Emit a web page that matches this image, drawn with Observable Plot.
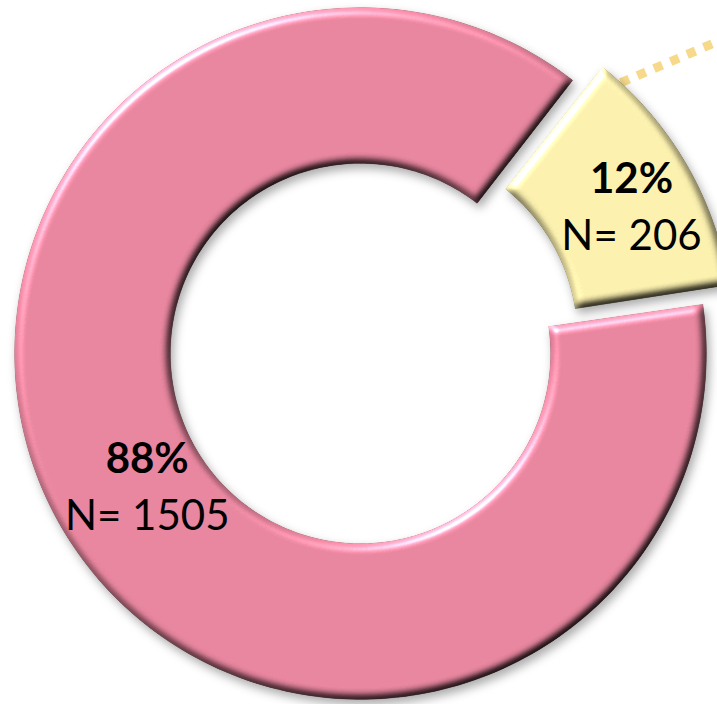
<!DOCTYPE html>
<html>
<head>
<meta charset="utf-8">
<script src="https://cdn.jsdelivr.net/npm/d3@7"></script>
<script src="https://cdn.jsdelivr.net/npm/@observablehq/plot@0.6"></script>
<style>
  html, body { margin: 0; padding: 0; background: #fff; overflow: hidden; }
  #chart svg { display: block; }
</style>
</head>
<body>
<div id="chart"></div>
<script>
// ---- data ----
const categories = ["Group A", "Group B"];
const counts = [1505, 206];
const sliceColors = ["#e6849d", "#f9eeac"];

// ---- layout ----
const W = 717, H = 704;
const cx = 360, cy = 353;
const Ro = 346, Ri = 190;
const deg = Math.PI / 180;
const explode = [0, 31];
const labelR = [252, 277];
const labelShift = [-2 * deg, 2 * deg];

const total = d3.sum(counts);
const pct = counts.map(v => Math.round(v / total * 100) + "%");
const nText = counts.map(v => "N= " + v);

const pie = d3.pie().sort(null)
  .startAngle(81.5 * deg).endAngle(81.5 * deg + 2 * Math.PI);
const arcs = pie(counts);
const pad = 0.3 * deg;

const pt = (r, a, o) => ({x: r * Math.sin(a) + o.x, y: -r * Math.cos(a) + o.y});

const slices = arcs.map((a, i) => {
  const mid = (a.startAngle + a.endAngle) / 2;
  const o = {x: explode[i] * Math.sin(mid), y: -explode[i] * Math.cos(mid)};
  const a0 = a.startAngle + pad, a1 = a.endAngle - pad;
  const n = 240;
  const pts = [];
  for (let k = 0; k <= n; k++) pts.push(pt(Ro, a0 + (a1 - a0) * k / n, o));
  for (let k = n; k >= 0; k--) pts.push(pt(Ri, a0 + (a1 - a0) * k / n, o));
  pts.push(pts[0]);
  const lab = pt(labelR[i], mid + labelShift[i], o);
  return {i, a0, a1, mid, o, pts, lab, category: categories[i]};
});

const labels = slices.map(s => ({x: s.lab.x, y: s.lab.y, pct: pct[s.i], n: nText[s.i]}));

const ys = slices[1];
const cStart = pt(Ro, ys.a0 + 4 * deg, ys.o);
const dir = 67 * deg;
const connector = [cStart, {x: cStart.x + 260 * Math.sin(dir), y: cStart.y - 260 * Math.cos(dir)}];

const chart = Plot.plot({
  width: W, height: H, margin: 0,
  style: {background: "#fff", overflow: "visible"},
  x: {domain: [-cx, W - cx], range: [0, W], axis: null},
  y: {domain: [-cy, H - cy], range: [0, H], axis: null},
  marks: [
    Plot.line(connector, {x: "x", y: "y", stroke: "#f6d98a", strokeWidth: 9,
      strokeDasharray: "9 9", strokeLinecap: "butt"}),
    ...slices.map(s => Plot.line(s.pts, {x: "x", y: "y", fill: sliceColors[s.i],
      stroke: sliceColors[s.i], strokeWidth: 0.5, ariaDescription: "slice"})),
    Plot.text(labels, {x: "x", y: "y", text: "pct", dy: -28, fontSize: 42,
      fontWeight: "bold", fontFamily: "Lato, 'Open Sans', sans-serif", fill: "#000"}),
    Plot.text(labels, {x: "x", y: "y", text: "n", dy: 29, fontSize: 42,
      fontFamily: "Lato, 'Open Sans', sans-serif", fill: "#000"})
  ]
});

const NS = "http://www.w3.org/2000/svg";
function el(parent, tag, attrs) {
  const e = document.createElementNS(NS, tag);
  for (const k in attrs) e.setAttribute(k, attrs[k]);
  parent.appendChild(e);
  return e;
}
const defs = document.createElementNS(NS, "defs");
chart.insertBefore(defs, chart.firstChild);
const f = el(defs, "filter", {id: "bevel", x: "-15%", y: "-15%", width: "130%", height: "130%",
  "color-interpolation-filters": "sRGB"});
el(f, "feGaussianBlur", {in: "SourceAlpha", stdDeviation: "4.5", result: "blur"});
const dl = el(f, "feDiffuseLighting", {in: "blur", surfaceScale: "6", diffuseConstant: "1",
  "lighting-color": "#ffffff", result: "diff"});
el(dl, "feDistantLight", {azimuth: "235", elevation: "55"});
el(f, "feComposite", {in: "SourceGraphic", in2: "diff", operator: "arithmetic",
  k1: "1.22", k2: "0", k3: "0", k4: "0", result: "lit"});
const sl = el(f, "feSpecularLighting", {in: "blur", surfaceScale: "6", specularConstant: "0.55",
  specularExponent: "25", "lighting-color": "#ffffff", result: "spec"});
el(sl, "feDistantLight", {azimuth: "235", elevation: "30"});
el(f, "feComposite", {in: "spec", in2: "SourceAlpha", operator: "in", result: "specIn"});
el(f, "feComposite", {in: "lit", in2: "specIn", operator: "arithmetic",
  k1: "0", k2: "1", k3: "0.8", k4: "0", result: "lit2"});
el(f, "feComposite", {in: "lit2", in2: "SourceAlpha", operator: "in", result: "litClip"});
el(f, "feGaussianBlur", {in: "SourceAlpha", stdDeviation: "5", result: "sb"});
el(f, "feOffset", {in: "sb", dx: "3", dy: "5", result: "so"});
el(f, "feFlood", {"flood-color": "#000000", "flood-opacity": "0.32", result: "fl"});
el(f, "feComposite", {in: "fl", in2: "so", operator: "in", result: "shadow"});
const m = el(f, "feMerge", {});
el(m, "feMergeNode", {in: "shadow"});
el(m, "feMergeNode", {in: "litClip"});
chart.querySelectorAll('g[aria-description="slice"]').forEach(g => g.setAttribute("filter", "url(#bevel)"));

document.getElementById("chart").appendChild(chart);
</script>
</body>
</html>
